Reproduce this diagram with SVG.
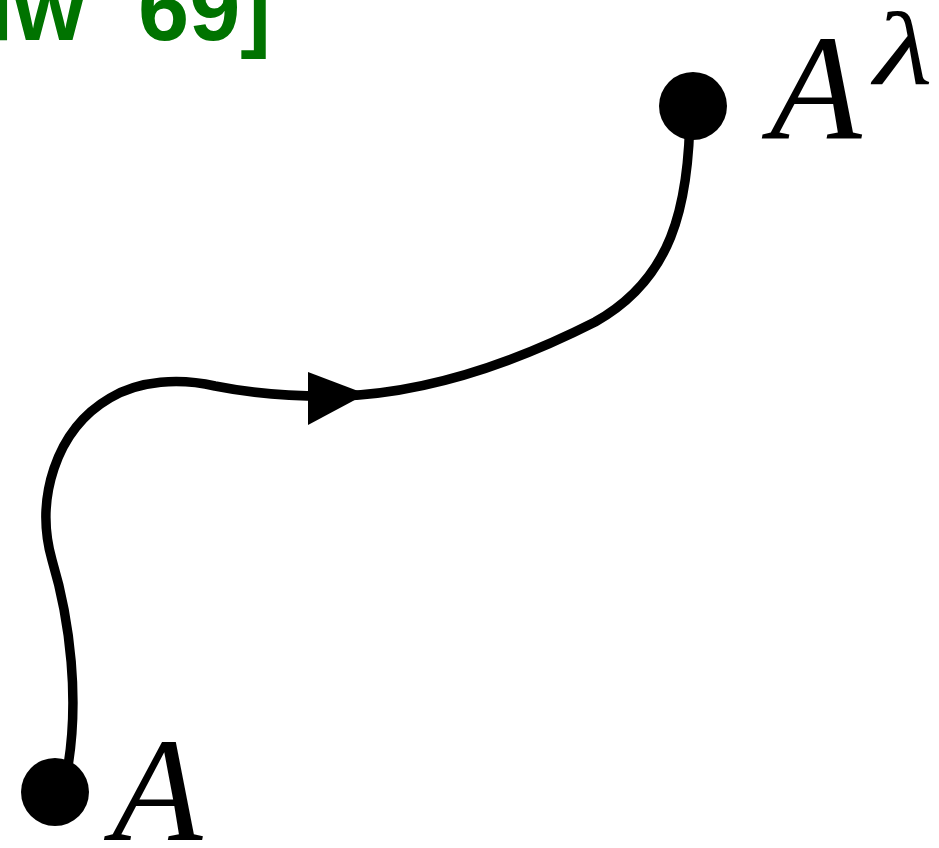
<svg xmlns="http://www.w3.org/2000/svg" width="939" height="848" viewBox="0 0 939 848">
<style>
.title{font-family:"Liberation Sans",Arial,sans-serif;font-weight:bold;font-size:92px;fill:#007300}
.lbl{font-family:"Liberation Serif","Times New Roman",serif;font-style:italic;fill:#000}
.dot{fill:#000}
.path{fill:none;stroke:#000;stroke-width:9.5;stroke-linecap:round}
</style>
<rect width="939" height="848" fill="#fff"/>
<g id="title">
<text class="title" x="-12" y="40">lw</text>
<text class="title" x="271" y="40" text-anchor="end">69]</text>
</g>
<g id="connectors">
<path class="path" d="M 67 772 C 80 700, 70 620, 52 560 C 35 500, 55 430, 110 398 C 140 380, 180 378, 215 386 C 250 393, 290 397, 340 396 C 430 393, 520 360, 595 322 C 670 280, 690 210, 690 106"/>
<polygon points="308,372 366,394 308,425" fill="#000"/>
</g>
<g id="nodeA">
<circle class="dot" cx="55" cy="792" r="34"/>
<text class="lbl" x="112" y="840" font-size="148">A</text>
</g>
<g id="nodeAlambda">
<circle class="dot" cx="693" cy="106" r="34"/>
<text class="lbl" x="770" y="138" font-size="150">A</text>
<text class="lbl" x="0" y="0" font-size="104" transform="translate(874 84) scale(1.3 1)">λ</text>
</g>
</svg>
